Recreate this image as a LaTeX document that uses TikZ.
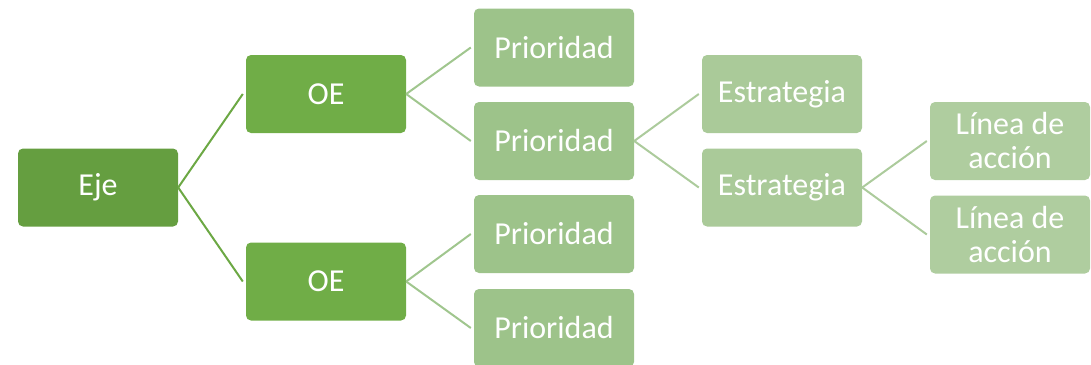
\documentclass[tikz,border=0pt]{standalone}
\usepackage{fontspec}
\setmainfont{Carlito}
\definecolor{cEje}{RGB}{101,158,64}
\definecolor{cOE}{RGB}{112,173,71}
\definecolor{cPri}{RGB}{157,195,138}
\definecolor{cEst}{RGB}{170,202,153}
\definecolor{cLin}{RGB}{175,205,159}
\definecolor{lnA}{RGB}{108,168,68}
\definecolor{lnB}{RGB}{160,198,142}
\definecolor{lnC}{RGB}{172,203,156}
\tikzset{
  box/.style={rectangle, rounded corners=5pt, minimum width=160pt, minimum height=78pt,
    inner sep=0pt, text=white, font=\fontsize{32}{34}\selectfont, align=center},
  ejebox/.style={box, fill=cEje},
  oebox/.style={box, fill=cOE},
  pribox/.style={box, fill=cPri},
  estbox/.style={box, fill=cEst},
  linbox/.style={box, fill=cLin},
  conA/.style={draw=lnA, line width=2pt},
  conB/.style={draw=lnB, line width=2pt},
  conC/.style={draw=lnC, line width=2pt},
}
\begin{document}
\begin{tikzpicture}[x=1pt,y=-1pt]
\useasboundingbox (0,0) rectangle (1091,364);
\clip (0,0) rectangle (1091,364);
\node[ejebox] (eje) at (98,187.5) {Eje};
\node[oebox] (oe1) at (326,94) {OE};
\node[oebox] (oe2) at (326,281.5) {OE};
\node[pribox] (p1) at (554,47.5) {Prioridad};
\node[pribox] (p2) at (554,141) {Prioridad};
\node[pribox] (p3) at (554,234) {Prioridad};
\node[pribox] (p4) at (554,328) {Prioridad};
\node[estbox] (e1) at (782,94) {Estrategia};
\node[estbox] (e2) at (782,187.5) {Estrategia};
\node[linbox] (l1) at (1010,141) {Línea de\\acción};
\node[linbox] (l2) at (1010,234.5) {Línea de\\acción};
\draw[conA] (eje.east) -- ([xshift=-3pt]oe1.west);
\draw[conA] (eje.east) -- ([xshift=-3pt]oe2.west);
\draw[conB] (oe1.east) -- ([xshift=-3pt]p1.west);
\draw[conB] (oe1.east) -- ([xshift=-3pt]p2.west);
\draw[conB] (oe2.east) -- ([xshift=-3pt]p3.west);
\draw[conB] (oe2.east) -- ([xshift=-3pt]p4.west);
\draw[conC] (p2.east) -- ([xshift=-3pt]e1.west);
\draw[conC] (p2.east) -- ([xshift=-3pt]e2.west);
\draw[conC] (e2.east) -- ([xshift=-3pt]l1.west);
\draw[conC] (e2.east) -- ([xshift=-3pt]l2.west);
\end{tikzpicture}
\end{document}
